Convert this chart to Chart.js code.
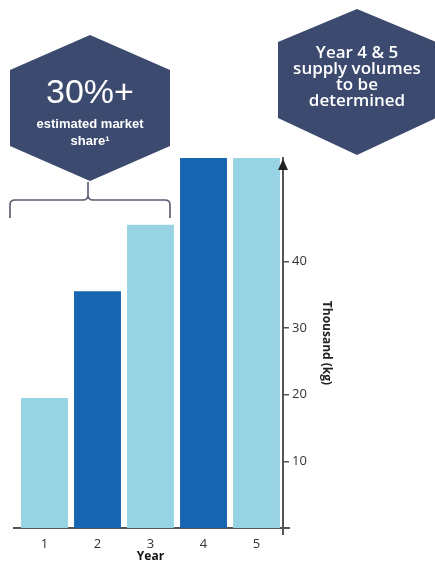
<!DOCTYPE html>
<html>
<head>
<meta charset="utf-8">
<script src="https://cdn.jsdelivr.net/npm/chart.js@4.4.1/dist/chart.umd.min.js"></script>
<style>
  html, body { margin: 0; padding: 0; background: #fff; }
</style>
</head>
<body>
<canvas id="supplyChart" width="435" height="564"></canvas>
<script>
const years = ['1', '2', '3', '4', '5'];
const volumes = [19.5, 35.5, 45.5, 55.5, 55.5];
const barColors = ['#98d3e3', '#1565b0', '#98d3e3', '#1565b0', '#98d3e3'];
const yTicks = [10, 20, 30, 40];
const yMax = 55.5;

const hexColor = '#3b4a6e';

function hexagon(ctx, cx, top, shoulder, lower, bottom, hw) {
    ctx.beginPath();
    ctx.moveTo(cx, top);
    ctx.lineTo(cx + hw, shoulder);
    ctx.lineTo(cx + hw, lower);
    ctx.lineTo(cx, bottom);
    ctx.lineTo(cx - hw, lower);
    ctx.lineTo(cx - hw, shoulder);
    ctx.closePath();
    ctx.fillStyle = hexColor;
    ctx.fill();
}

// callouts, brace and axis arrow
const callouts = {
    id: 'callouts',
    afterDraw(chart) {
        const ctx = chart.ctx;
        const area = chart.chartArea;
        const ax = chart.scales.y.left;
        ctx.save();

        // left hexagon
        hexagon(ctx, 90, 35, 70, 146, 181, 80);
        ctx.fillStyle = '#fff';
        ctx.textAlign = 'center';
        ctx.textBaseline = 'middle';
        ctx.font = '34px "Liberation Sans", Arial, sans-serif';
        ctx.fillText('30%+', 90, 94);
        ctx.font = 'bold 13px "Liberation Sans", Arial, sans-serif';
        ctx.fillText('estimated market', 90, 124);
        ctx.fillText('share\u00b9', 90, 141);

        // right hexagon
        hexagon(ctx, 357, 9, 42, 118, 155, 79);
        ctx.fillStyle = '#fff';
        ctx.font = '600 17px "Open Sans", sans-serif';
        ['Year 4 & 5', 'supply volumes', 'to be', 'determined'].forEach((t, i) => {
            ctx.fillText(t, 357, 53 + i * 16);
        });

        // brace under left hexagon
        ctx.strokeStyle = '#5d5870';
        ctx.lineWidth = 1.6;
        ctx.beginPath();
        ctx.moveTo(10, 218);
        ctx.lineTo(10, 205);
        ctx.quadraticCurveTo(10, 200, 15, 200);
        ctx.lineTo(83, 200);
        ctx.quadraticCurveTo(88, 200, 88, 195);
        ctx.lineTo(88, 182);
        ctx.moveTo(170, 218);
        ctx.lineTo(170, 205);
        ctx.quadraticCurveTo(170, 200, 165, 200);
        ctx.lineTo(93, 200);
        ctx.quadraticCurveTo(88, 200, 88, 195);
        ctx.stroke();

        // arrow head on the value axis
        ctx.fillStyle = '#222';
        ctx.beginPath();
        ctx.moveTo(ax, area.top + 1);
        ctx.lineTo(ax - 5, area.top + 12);
        ctx.lineTo(ax + 5, area.top + 12);
        ctx.closePath();
        ctx.fill();

        // small overhang where the axes cross
        ctx.strokeStyle = '#555';
        ctx.lineWidth = 2;
        ctx.beginPath();
        ctx.moveTo(area.left - 5, area.bottom);
        ctx.lineTo(area.left, area.bottom);
        ctx.moveTo(ax, area.bottom);
        ctx.lineTo(ax + 7, area.bottom);
        ctx.moveTo(ax, area.bottom);
        ctx.lineTo(ax, area.bottom + 7);
        ctx.stroke();
        ctx.restore();
    }
};

const ctx = document.getElementById('supplyChart').getContext('2d');
const supplyChart = new Chart(ctx, {
    type: 'bar',
    data: {
        labels: years,
        datasets: [{
            data: volumes,
            backgroundColor: barColors,
            borderWidth: 0,
            barPercentage: 0.885,
            categoryPercentage: 1
        }]
    },
    options: {
        responsive: false,
        animation: false,
        layout: {
            padding: { top: 158, right: 100, left: 18, bottom: 0 }
        },
        plugins: {
            legend: { display: false },
            tooltip: { enabled: false }
        },
        scales: {
            x: {
                grid: { display: false, drawTicks: false },
                border: { display: true, color: '#555', width: 2 },
                ticks: {
                    color: '#333',
                    padding: 8,
                    font: { family: '"Open Sans", sans-serif', size: 13 }
                },
                title: {
                    display: true,
                    text: 'Year',
                    color: '#111',
                    padding: 0,
                    font: { family: '"Open Sans", sans-serif', size: 12, weight: 'bold' }
                },
                afterFit: s => { s.height = 36; }
            },
            y: {
                position: 'right',
                min: 0,
                max: yMax,
                grid: {
                    drawOnChartArea: false,
                    drawTicks: true,
                    tickLength: 6,
                    color: '#555',
                    lineWidth: 1.5
                },
                border: { color: '#555', width: 2 },
                ticks: {
                    color: '#333',
                    padding: 3,
                    font: { family: '"Open Sans", sans-serif', size: 13 }
                },
                afterBuildTicks: s => { s.ticks = yTicks.map(v => ({ value: v })); },
                title: {
                    display: true,
                    text: 'Thousand (kg)',
                    color: '#222',
                    padding: { top: 1, bottom: 0 },
                    font: { family: '"Open Sans", sans-serif', size: 12, weight: 'bold' }
                },
                afterFit: s => { s.width = 52; }
            }
        }
    },
    plugins: [callouts]
});
</script>
</body>
</html>
